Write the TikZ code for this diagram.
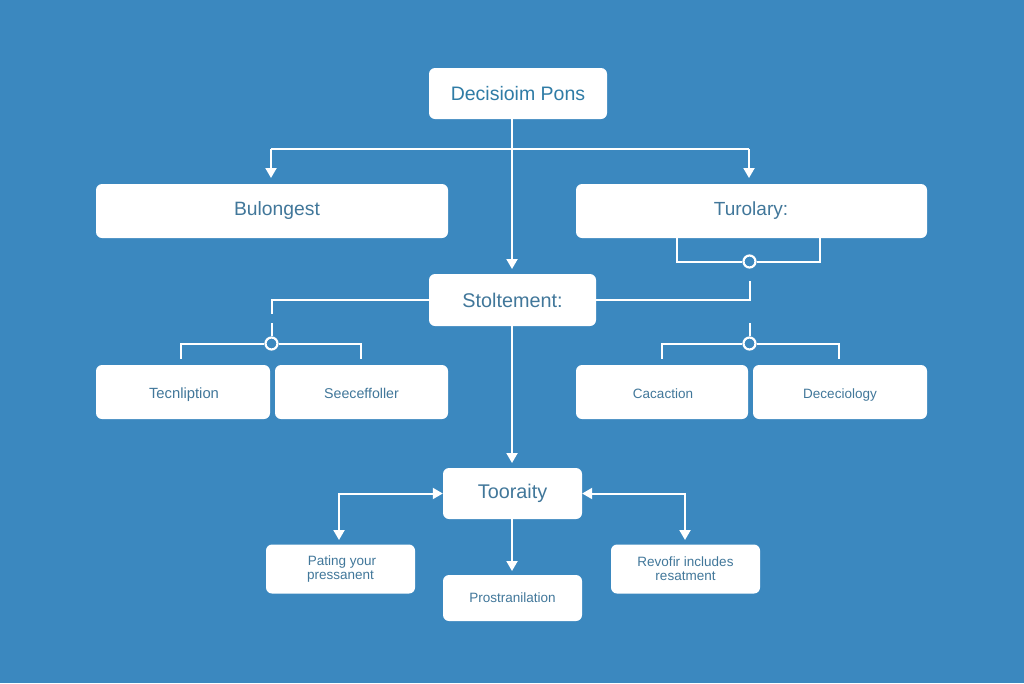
\documentclass[tikz,border=0pt]{standalone}
\usepackage{fontspec}
\setmainfont{Liberation Sans}
\usetikzlibrary{arrows.meta}
\definecolor{bgblue}{HTML}{3B88BF}
\definecolor{txtblue}{HTML}{41779A}
\definecolor{txthead}{HTML}{2F7CA6}
\tikzset{
  x=1pt,y=-1pt,
  boxn/.style={fill=white,rounded corners=6pt,inner sep=0pt,align=center,font=\fontsize{#1}{14}\selectfont},
  boxn/.default=14,
  wire/.style={draw=white,line width=2pt},
  arr/.style={wire,-{Triangle[width=11pt,length=10pt]}},
  barr/.style={wire,{Triangle[width=11pt,length=10pt]}-{Triangle[width=11pt,length=10pt]}},
  junction/.style={circle,draw=white,line width=2.2pt,fill=bgblue,minimum size=12pt,inner sep=0pt},
}
\newcommand{\bx}[8]{\node[boxn=#7,minimum width=#3pt,minimum height=#4pt,text=#8] (#1) at (#5,#6) {#2};}
\newcommand{\lw}[1]{\raisebox{-6pt}[0pt][0pt]{#1}}
\begin{document}
\begin{tikzpicture}
\useasboundingbox (0,0) rectangle (1024,683);
\fill[bgblue] (0,0) rectangle (1024,683);
\bx{top}{Decisioim Pons}{178}{51}{518}{93.5}{19.5}{txthead}
\bx{bul}{\hspace*{10pt}Bulongest}{352}{54}{272}{211}{19.3}{txtblue}
\bx{tur}{Turolary:\hspace*{1pt}}{351}{54}{751.5}{211}{19}{txtblue}
\bx{sto}{Stoltement:}{167}{52}{512.5}{300}{19.8}{txtblue}
\bx{tec}{\lw{\hspace*{2pt}Tecnliption}}{174}{54}{183}{392}{14.8}{txtblue}
\bx{see}{\lw{Seeceffoller}}{173}{54}{361.5}{392}{14.2}{txtblue}
\bx{cac}{\lw{Cacaction\hspace*{-2pt}}}{172}{54}{662}{392}{13.5}{txtblue}
\bx{dec}{\lw{Dececiology}}{174}{54}{840}{392}{13.5}{txtblue}
\bx{too}{Tooraity}{139}{51}{512.5}{493.5}{19.8}{txtblue}
\bx{pat}{\hspace*{3pt}Pating your\\pressanent}{149}{49}{340.5}{569}{13.5}{txtblue}
\bx{pro}{Prostranilation}{139}{46}{512.5}{598}{13.5}{txtblue}
\bx{rev}{Revofir includes\\resatment}{149}{49}{685.5}{569}{13.5}{txtblue}
% named points
\coordinate (hl) at (271,149); \coordinate (hr) at (749,149); \coordinate (hm) at (512,149);
\coordinate (bulin) at (271,178); \coordinate (turin) at (749,178);
\coordinate (topout) at (512,119); \coordinate (stoin) at (512,269);
\coordinate (stoout) at (512,326); \coordinate (tooin) at (512,463);
\node[junction] (jt) at (749.5,261.5) {};
\node[junction] (jl) at (271.5,343.5) {};
\node[junction] (jr) at (749.5,343.5) {};
\coordinate (tl) at (677,238); \coordinate (tr) at (820,238);
\coordinate (se) at (749.5,281);
\coordinate (sl) at (271.5,314); \coordinate (jlu) at (271.5,323); \coordinate (jru) at (749.5,323);
\coordinate (tecin) at (180.5,359); \coordinate (seein) at (361,359);
\coordinate (cacin) at (662,359); \coordinate (decin) at (839,359);
\coordinate (patin) at (339,540); \coordinate (revin) at (685,540);
\coordinate (tooout) at (512,519); \coordinate (proin) at (512,571);
% connectors
\draw[arr] (topout) -- (stoin);
\draw[wire] (hm) -- (hl);
\draw[wire] (hm) -- (hr);
\draw[arr] (hl) -- (bulin);
\draw[arr] (hr) -- (turin);
\draw[wire] (tl) |- (jt.west);
\draw[wire] (tr) |- (jt.east);
\draw[wire] (se) |- (sto.east);
\draw[wire] (sto.west) -| (sl);
\draw[wire] (jlu) -- (jl.north);
\draw[wire] (jru) -- (jr.north);
\draw[wire] (jl.west) -| (tecin);
\draw[wire] (jl.east) -| (seein);
\draw[wire] (jr.west) -| (cacin);
\draw[wire] (jr.east) -| (decin);
\draw[arr] (stoout) -- (tooin);
\draw[barr] (too.west) -| (patin);
\draw[barr] (too.east) -| (revin);
\draw[arr] (tooout) -- (proin);
\end{tikzpicture}
\end{document}
